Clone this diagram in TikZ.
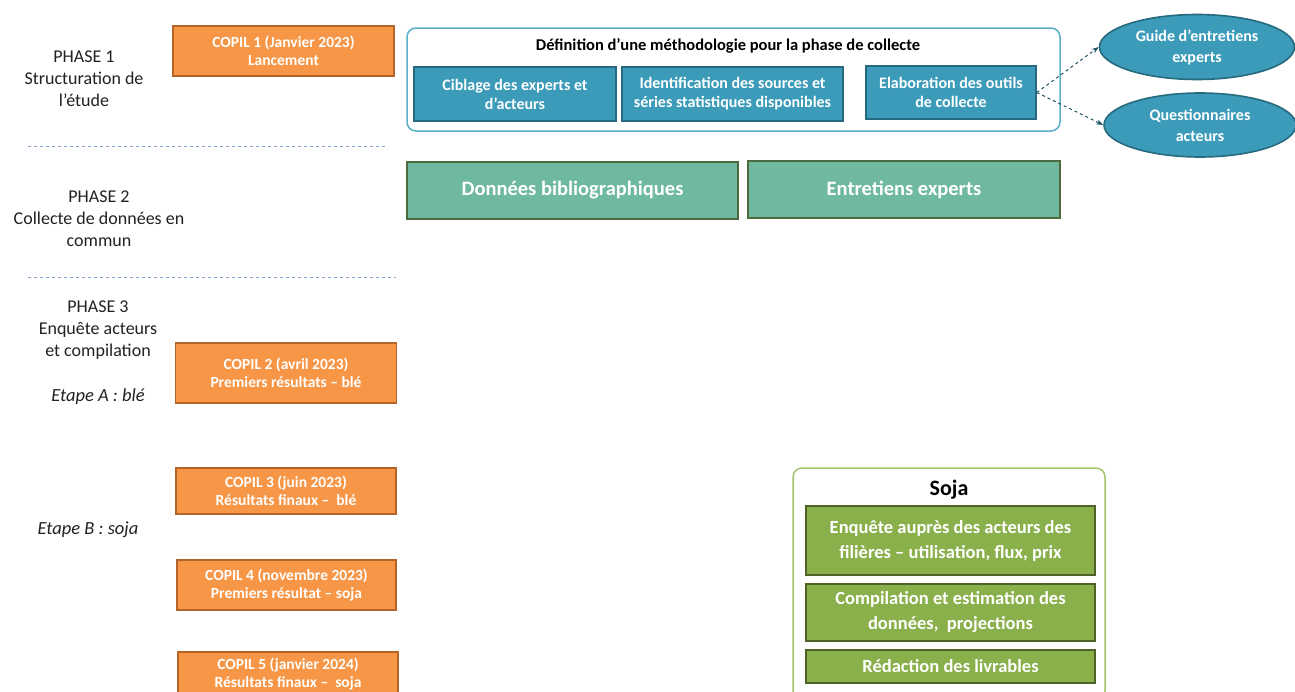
\documentclass[tikz,border=0pt]{standalone}
\usepackage{fontspec}
\setmainfont{Carlito}
\usetikzlibrary{shapes.geometric,arrows.meta}
\definecolor{orfill}{HTML}{F79646}
\definecolor{ordraw}{HTML}{B5652A}
\definecolor{tefill}{HTML}{3B9BB9}
\definecolor{tedraw}{HTML}{27697E}
\definecolor{teline}{HTML}{5AAEC6}
\definecolor{gtfill}{HTML}{6FB99E}
\definecolor{gtdraw}{HTML}{4C6A3C}
\definecolor{grfill}{HTML}{8AB04C}
\definecolor{grdraw}{HTML}{4F6228}
\definecolor{grline}{HTML}{A5C46A}
\definecolor{sepline}{HTML}{7E9FD0}
\definecolor{txt}{HTML}{222222}
\tikzset{
  box/.style={draw, line width=1.6pt, inner sep=0pt, align=center, text=white, font=\bfseries},
  copil/.style={box, fill=orfill, draw=ordraw, font=\fontsize{15.5}{18}\selectfont\bfseries},
  tealbox/.style={box, fill=tefill, draw=tedraw, font=\fontsize{16}{19}\selectfont\bfseries},
  gtbox/.style={box, fill=gtfill, draw=gtdraw, font=\fontsize{20.5}{24}\selectfont\bfseries},
  grbox/.style={box, fill=grfill, draw=grdraw, font=\fontsize{18.5}{25}\selectfont\bfseries},
  oval/.style={ellipse, draw=tedraw, fill=tefill, line width=1.6pt, inner sep=0pt, align=center, text=white, font=\fontsize{16}{21}\selectfont\bfseries},
  container/.style={draw, rounded corners=9pt, line width=1.5pt, fill=white},
  phase/.style={align=center, text=txt, font=\fontsize{18}{22}\selectfont},
  sep/.style={draw=sepline, dashed, line width=0.9pt},
  conn/.style={dashed, draw=tedraw!80!black, line width=1pt, -{Stealth[length=7pt,width=5pt]}}
}
\begin{document}
\begin{tikzpicture}[x=1pt,y=-1pt]
\useasboundingbox (0,0) rectangle (1295,691);
\clip (0,0) rectangle (1295,691);
\fill[white] (0,0) rectangle (1295,691);

% left phase labels
\node[phase] (p1) at (84,79) {PHASE 1\\Structuration de\\l’étude};
\node[phase] (p2) at (99,219) {PHASE 2\\Collecte de données en\\commun};
\node[phase] (p3) at (98,330) {PHASE 3\\Enquête acteurs\\et compilation};
\node[phase, font=\fontsize{18.5}{22}\selectfont\itshape] (ea) at (98,397) {Etape A : blé};
\node[phase, font=\fontsize{18.5}{22}\selectfont\itshape] (eb) at (88,530) {Etape B : soja};

% separators
\coordinate (s1a) at (28,146); \coordinate (s1b) at (388,146);
\coordinate (s2a) at (28,277); \coordinate (s2b) at (396,277);
\draw[sep] (s1a) -- (s1b);
\draw[sep] (s2a) -- (s2b);

% COPIL boxes
\node[copil, minimum width=221pt, minimum height=50pt] (c1) at (283.5,51) {COPIL 1 (Janvier 2023)\\Lancement};
\node[copil, minimum width=221pt, minimum height=60pt] (c2) at (286,373) {COPIL 2 (avril 2023)\\Premiers résultats – blé};
\node[copil, minimum width=220pt, minimum height=46pt] (c3) at (286,491) {COPIL 3 (juin 2023)\\Résultats finaux –\ \ blé};
\node[copil, minimum width=219pt, minimum height=50pt] (c4) at (286.5,585) {COPIL 4 (novembre 2023)\\Premiers résultat – soja};
\node[copil, minimum width=220pt, minimum height=44pt, anchor=north] (c5) at (288,651) {COPIL 5 (janvier 2024)\\Résultats finaux –\ \ soja};

% methodology container
\draw[container, draw=teline] (407,28) rectangle (1060,131);
\node[font=\fontsize{16.5}{18}\selectfont\bfseries, text=black] (meth) at (728,46) {Définition d’une méthodologie pour la phase de collecte};
\node[tealbox, minimum width=202pt, minimum height=54pt] (cib) at (515,94) {Ciblage des experts et\\d’acteurs};
\node[tealbox, minimum width=221pt, minimum height=54pt] (ide) at (732.5,94) {Identification des sources et\\séries statistiques disponibles};
\node[tealbox, minimum width=170pt, minimum height=53pt] (ela) at (951,92.5) {Elaboration des outils\\de collecte};

% ellipses
\node[oval, minimum width=195pt, minimum height=65pt] (gui) at (1197,47) {Guide d’entretiens\\experts};
\node[oval, minimum width=192pt, minimum height=64pt] (que) at (1200,125) {Questionnaires\\acteurs};
\draw[conn] (ela.east) -- (gui.west);
\draw[conn] (ela.east) -- (que.west);

% phase 2 boxes
\node[gtbox, minimum width=331pt, minimum height=57pt] (don) at (572.5,190.5) {Données bibliographiques};
\node[gtbox, minimum width=312pt, minimum height=57pt] (ent) at (904,189.5) {Entretiens experts};

% soja container
\draw[container, draw=grline] (793,468) rectangle (1105,700);
\node[font=\fontsize{22}{24}\selectfont\bfseries, text=black] (soja) at (949,490) {Soja};
\node[grbox, minimum width=289pt, minimum height=69pt] (enq) at (950.5,540.5) {Enquête auprès des acteurs des\\filières – utilisation, flux, prix};
\node[grbox, minimum width=289pt, minimum height=57pt] (com) at (950.5,612.5) {Compilation et estimation des\\données,\ \ projections};
\node[grbox, minimum width=289pt, minimum height=33pt] (red) at (950.5,666.5) {Rédaction des livrables};
\end{tikzpicture}
\end{document}
